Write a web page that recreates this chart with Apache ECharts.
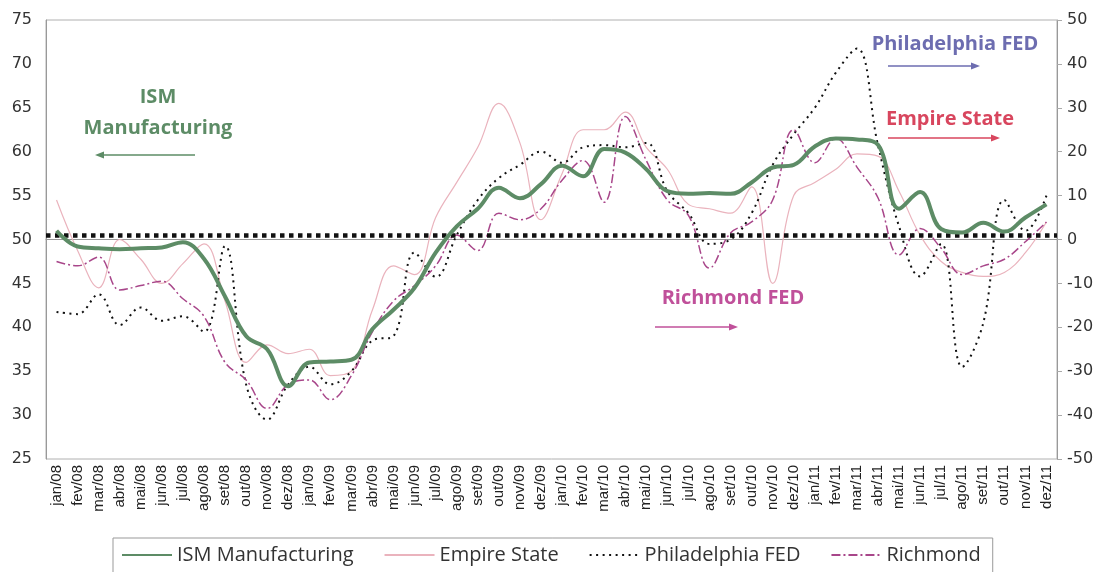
<!DOCTYPE html>
<html lang="pt">
<head>
    <meta charset="UTF-8" />
    <title>ISM Manufacturing e indicadores regionais</title>
    <script src="https://cdn.jsdelivr.net/npm/echarts@6.0.0/dist/echarts.min.js"></script>
    <style>
        body { margin: 0; background: #fff; }
        #chart { width: 1103px; height: 572px; }
    </style>
</head>
<body>
    <div id="chart"></div>
    <script>
        const meses = ['jan/08','fev/08','mar/08','abr/08','mai/08','jun/08','jul/08','ago/08','set/08','out/08','nov/08','dez/08',
                       'jan/09','fev/09','mar/09','abr/09','mai/09','jun/09','jul/09','ago/09','set/09','out/09','nov/09','dez/09',
                       'jan/10','fev/10','mar/10','abr/10','mai/10','jun/10','jul/10','ago/10','set/10','out/10','nov/10','dez/10',
                       'jan/11','fev/11','mar/11','abr/11','mai/11','jun/11','jul/11','ago/11','set/11','out/11','nov/11','dez/11'];

        // eixo esquerdo
        const ism = [51.0, 49.2, 49.0, 48.9, 49.0, 49.1, 49.7, 47.8, 43.5, 39.0, 37.5, 33.3,
                     36.0, 36.1, 36.3, 39.8, 42.0, 44.5, 48.5, 51.5, 53.5, 55.9, 54.7, 56.3,
                     58.4, 57.2, 60.3, 59.9, 58.0, 55.5, 55.2, 55.3, 55.2, 56.5, 58.2, 58.5,
                     60.6, 61.5, 61.4, 60.8, 53.5, 55.4, 51.2, 50.8, 51.9, 50.9, 52.5, 54.0];

        // eixo direito
        const empire = [9, -2.5, -11, 0, -4.5, -10, -5.5, -1, -14, -28, -24, -26,
                        -25, -31, -30, -16, -6, -8, 5, 13, 21, 31, 22, 4.5,
                        15, 25, 25, 29, 21, 16, 8, 7, 6, 12, -10, 10,
                        13, 16, 19.5, 19, 11, 1, -5, -7.5, -8.4, -7.5, -3, 4];
        const philly = [-16.5, -17, -12.5, -19.5, -15.5, -18.5, -17.5, -21, -1.5, -33, -41, -33,
                        -29, -33, -30, -23, -22, -3, -8.5, 1, 9, 14, 17, 20,
                        17.5, 21, 21.5, 21, 22, 11, 6, -1, 0, 6, 17, 24,
                        30, 38, 43.5, 21.5, 3, -8.4, -1, -29, -19, 9, 2, 10];
        const richmond = [-5, -6, -4, -11.5, -10.5, -9.5, -13.5, -17.5, -28, -32, -38.5, -33,
                          -32, -36.5, -31, -21, -14, -10.5, -6, 1, -2.5, 6, 4.5, 7,
                          13.5, 18, 8.5, 28, 18, 9, 5.5, -6.5, 1.5, 4, 9, 25,
                          17.5, 23, 16.5, 9.5, -3.5, 2.5, -2, -8, -6, -4.5, -0.5, 4];

        const nivelRef = 50.5;

        const chart = echarts.init(document.getElementById('chart'));

        function seta(x1, y1, x2, y2, cor) {
            const dir = x2 > x1 ? 1 : -1;
            return [
                { type: 'line', shape: { x1: x1, y1: y1, x2: x2 - dir * 6, y2: y2 }, style: { stroke: cor, lineWidth: 1.5 } },
                { type: 'polygon', shape: { points: [[x2, y2], [x2 - dir * 9, y2 - 3.5], [x2 - dir * 9, y2 + 3.5]] }, style: { fill: cor } }
            ];
        }

        function rotulo(x, y, txt, cor) {
            return { type: 'text', x: x, y: y, style: { text: txt, fill: cor, font: 'bold 20px "Open Sans"', align: 'center', verticalAlign: 'middle' } };
        }

        chart.setOption({
            animation: false,
            backgroundColor: '#fff',
            textStyle: { fontFamily: 'Open Sans' },
            grid: { left: 46, right: 46, top: 20, bottom: 113, show: true, borderColor: '#b0b0b0', borderWidth: 1 },
            legend: {
                top: 538,
                left: 113,
                padding: [7, 12, 12, 8],
                borderColor: '#999',
                borderWidth: 1,
                itemWidth: 50,
                itemHeight: 12,
                itemGap: 30,
                itemStyle: { opacity: 0 },
                textStyle: { fontSize: 20, color: '#333', fontFamily: 'Open Sans' },
                data: ['ISM Manufacturing', 'Empire State', 'Philadelphia FED', 'Richmond']
            },
            xAxis: {
                type: 'category',
                data: meses,
                boundaryGap: true,
                axisLine: { lineStyle: { color: '#999' } },
                axisTick: { interval: 0, length: 4, lineStyle: { color: '#999' } },
                axisLabel: { interval: 0, rotate: 90, fontSize: 15, color: '#222', fontFamily: 'Liberation Sans', margin: 6 }
            },
            yAxis: [
                {
                    type: 'value', min: 25, max: 75, interval: 5,
                    axisLine: { show: true, lineStyle: { color: '#999' } },
                    axisTick: { show: false },
                    splitLine: { show: false },
                    axisLabel: { fontSize: 16, color: '#333', fontFamily: 'DejaVu Sans', margin: 14 }
                },
                {
                    type: 'value', min: -50, max: 50, interval: 10,
                    axisLine: { show: true, lineStyle: { color: '#999' } },
                    axisTick: { show: true, length: 5, lineStyle: { color: '#aaa' } },
                    splitLine: { show: false },
                    axisLabel: { fontSize: 16, color: '#333', fontFamily: 'DejaVu Sans', margin: 10 }
                }
            ],
            series: [
                {
                    name: 'ISM Manufacturing', type: 'line', yAxisIndex: 0, data: ism,
                    smooth: 0.4, showSymbol: false, symbol: 'none', z: 5,
                    lineStyle: { color: '#5d8c66', width: 4 }, itemStyle: { color: '#5d8c66' },
                    markLine: {
                        silent: true, symbol: 'none', label: { show: false },
                        lineStyle: { color: '#111', width: 4.5, type: [4.5, 4.5] },
                        data: [{ yAxis: nivelRef }]
                    }
                },
                {
                    name: 'Empire State', type: 'line', yAxisIndex: 1, data: empire,
                    smooth: 0.4, showSymbol: false, symbol: 'none',
                    lineStyle: { color: '#eab3bd', width: 1.2 }, itemStyle: { color: '#eab3bd' }
                },
                {
                    name: 'Philadelphia FED', type: 'line', yAxisIndex: 1, data: philly,
                    smooth: 0.4, showSymbol: false, symbol: 'none',
                    lineStyle: { color: '#111', width: 2, type: [2, 4.5] }, itemStyle: { color: '#111' }
                },
                {
                    name: 'Richmond', type: 'line', yAxisIndex: 1, data: richmond,
                    smooth: 0.4, showSymbol: false, symbol: 'none',
                    lineStyle: { color: '#a8468a', width: 1.5, type: [9, 3, 2, 3] }, itemStyle: { color: '#a8468a' }
                }
            ],
            graphic: [
                rotulo(158, 97, 'ISM', '#5d8c66'),
                rotulo(158, 128, 'Manufacturing', '#5d8c66'),
                ...seta(195, 155, 95, 155, '#5d8c66'),
                rotulo(955, 44, 'Philadelphia FED', '#6d6db0'),
                ...seta(888, 66, 980, 66, '#6d6db0'),
                rotulo(950, 119, 'Empire State', '#d8465e'),
                ...seta(888, 138, 1000, 138, '#d8465e'),
                rotulo(733, 298, 'Richmond FED', '#c0509a'),
                ...seta(655, 327, 738, 327, '#c0509a')
            ]
        });
    </script>
</body>
</html>
